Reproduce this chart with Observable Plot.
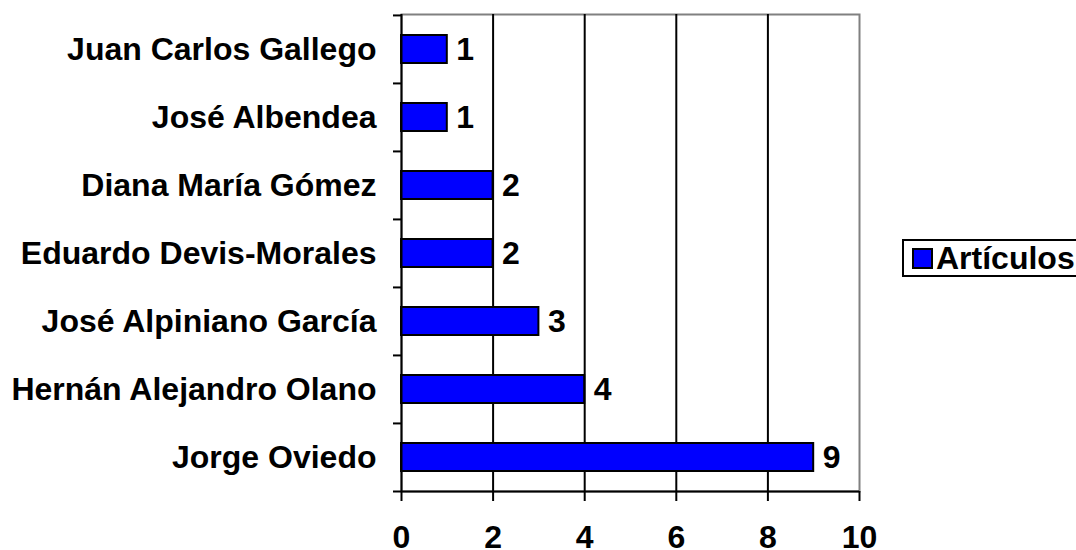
<!DOCTYPE html>
<html><head><meta charset="utf-8">
<script src="https://cdn.jsdelivr.net/npm/d3@7"></script>
<script src="https://cdn.jsdelivr.net/npm/@observablehq/plot@0.6"></script>
<style>
html,body{margin:0;padding:0;background:#fff;overflow:hidden;}
#wrap{position:relative;width:1076px;height:550px;font-family:"Liberation Sans",Arial,sans-serif;color:#000;}
#legend{position:absolute;left:902px;top:239px;height:38px;width:200px;border:2px solid #000;background:#fff;display:flex;align-items:center;font-weight:bold;font-size:32px;box-sizing:border-box;white-space:nowrap;}
#legend .sw{display:inline-block;width:21px;height:21px;background:#0000ff;border:2px solid #000;box-sizing:border-box;margin-left:8px;margin-right:3px;}
</style></head>
<body><div id="wrap"><div id="chart"></div><div id="legend"><span class="sw"></span><span id="lt"></span></div></div>
<script>
const authors = ["Juan Carlos Gallego","José Albendea","Diana María Gómez","Eduardo Devis-Morales","José Alpiniano García","Hernán Alejandro Olano","Jorge Oviedo"];
const articles = [1,1,2,2,3,4,9];
const xTicks = [0,2,4,6,8,10];
const gridTicks = [2,4,6,8];
const seriesName = "Artículos";

const data = authors.map((name,i)=>({name, value: articles[i]}));
const W = 1076, H = 550, mT = 14, mB = 59, mL = 401, mR = 217;
const step = (H - mT - mB) / authors.length;
const font = 32;

const chart = Plot.plot({
  width: W, height: H,
  marginTop: mT, marginBottom: mB, marginLeft: mL, marginRight: mR,
  style: {fontFamily: '"Liberation Sans", Arial, sans-serif', color: "#000", background: "#fff", overflow: "visible"},
  x: {domain: [0, 10], label: null},
  y: {domain: authors, paddingInner: 0.59, paddingOuter: 0.295, label: null},
  marks: [
    Plot.frame({stroke: "#808080", strokeWidth: 2}),
    Plot.ruleX(gridTicks, {stroke: "#000", strokeWidth: 2}),
    Plot.barX(data, {x: "value", y: "name", fill: "#0000ff", stroke: "#000", strokeWidth: 2}),
    Plot.text(data, {x: "value", y: "name", text: d => String(d.value), textAnchor: "start", dx: 9, fontSize: font, fontWeight: "bold", fill: "#000"}),
    Plot.ruleX([0], {stroke: "#000", strokeWidth: 2}),
    Plot.ruleY(authors, {y: d => d, x1: 0, x2: 0, insetLeft: -8, dy: -step/2, stroke: "#000", strokeWidth: 2}),
    Plot.ruleY([authors[authors.length-1]], {y: d => d, x1: 0, x2: 10, insetLeft: -8, dy: step/2, stroke: "#000", strokeWidth: 2}),
    Plot.axisY({tickSize: 0, tickPadding: 25, fontSize: font, fontWeight: "bold", label: null}),
    Plot.axisX(xTicks, {tickSize: 10, tickPadding: 24, fontSize: font, fontWeight: "bold", label: null, strokeWidth: 2, tickFormat: d => String(d)})
  ]
});
document.getElementById("chart").appendChild(chart);
document.getElementById("lt").textContent = seriesName;
</script>
</body></html>
